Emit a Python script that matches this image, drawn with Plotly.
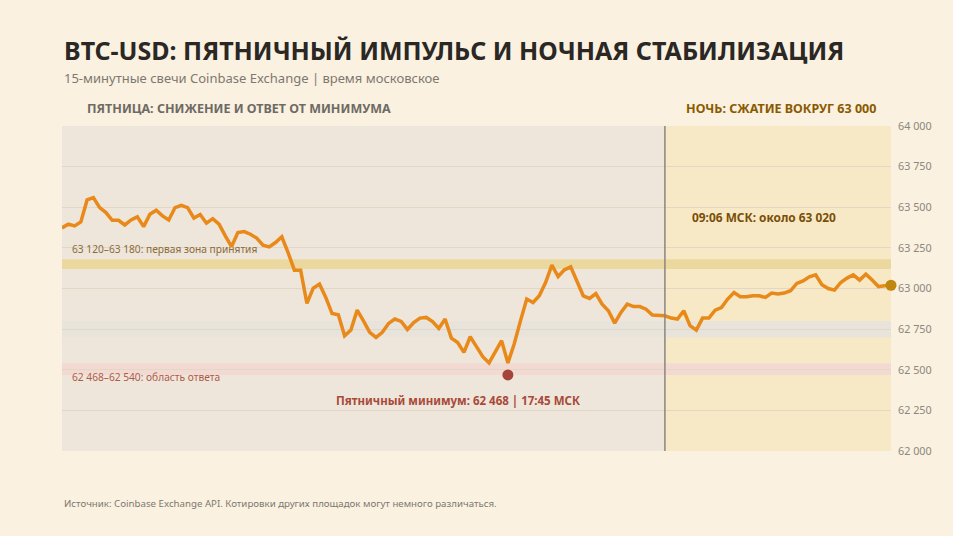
import pandas as pd
import plotly.graph_objects as go

# 15-minute closes, Friday 00:00 MSK -> Saturday 09:00 MSK
start_time = "2024-10-04 00:00"
night_start = "2024-10-05 00:00"
prices = [
    63373, 63396, 63385, 63410, 63545, 63559, 63498, 63467, 63420, 63420,
    63391, 63422, 63441, 63381, 63457, 63482, 63447, 63422, 63498, 63512,
    63498, 63433, 63455, 63402, 63430, 63396, 63324, 63258, 63344, 63350,
    63334, 63310, 63267, 63256, 63283, 63318, 63221, 63113, 63113, 62908,
    63002, 63027, 62945, 62846, 62838, 62709, 62744, 62867, 62801, 62730,
    62699, 62730, 62785, 62812, 62797, 62748, 62791, 62818, 62822, 62797,
    62754, 62812, 62695, 62668, 62607, 62703, 62642, 62580, 62542, 62607,
    62679, 62542, 62658, 62801, 62935, 62914, 62955, 63037, 63144, 63074,
    63115, 63133, 63047, 62955, 62939, 62969, 62904, 62863, 62787, 62853,
    62904, 62889, 62889, 62873, 62837, 62837, 62832, 62818, 62812, 62863,
    62771, 62744, 62818, 62818, 62867, 62883, 62935, 62975, 62949, 62949,
    62955, 62955, 62945, 62972, 62966, 62972, 62986, 63031, 63047, 63072,
    63084, 63023, 63000, 62990, 63037, 63064, 63084, 63052, 63088, 63052,
    63012, 63017, 63020,
]
times = pd.date_range(start_time, periods=len(prices), freq="15min")

friday_low_time = "2024-10-04 17:45"
friday_low = 62468
last_price = 63020

accept_zone = [63120, 63180]
neutral_zone = [62700, 62800]
response_zone = [62468, 62540]

y_ticks = [62000, 62250, 62500, 62750, 63000, 63250, 63500, 63750, 64000]

FONT = "Noto Sans"
BG = "#faf1e0"

fig = go.Figure()

fig.add_trace(go.Scatter(
    x=times, y=prices, mode="lines",
    line=dict(color="#e8891a", width=3.5),
    hoverinfo="skip", showlegend=False,
))
fig.add_trace(go.Scatter(
    x=[friday_low_time], y=[friday_low], mode="markers",
    marker=dict(color="#a5453a", size=11), cliponaxis=False,
    hoverinfo="skip", showlegend=False,
))
fig.add_trace(go.Scatter(
    x=[times[-1]], y=[last_price], mode="markers",
    marker=dict(color="#c0860f", size=11), cliponaxis=False,
    hoverinfo="skip", showlegend=False,
))

# session backgrounds
fig.add_shape(type="rect", xref="x", yref="paper", x0=times[0], x1=night_start,
              y0=0, y1=1, fillcolor="#eee6da", line_width=0, layer="below")
fig.add_shape(type="rect", xref="x", yref="paper", x0=night_start, x1=times[-1],
              y0=0, y1=1, fillcolor="#f7e9c6", line_width=0, layer="below")

# price zones
fig.add_shape(type="rect", xref="paper", yref="y", x0=0, x1=1,
              y0=accept_zone[0], y1=accept_zone[1],
              fillcolor="#ebd89f", line_width=0, layer="below")
fig.add_shape(type="rect", xref="paper", yref="y", x0=0, x1=1,
              y0=neutral_zone[0], y1=neutral_zone[1],
              fillcolor="#e8e4dc", line_width=0, layer="below")
fig.add_shape(type="rect", xref="paper", yref="y", x0=0, x1=1,
              y0=response_zone[0], y1=response_zone[1],
              fillcolor="#f2dad3", line_width=0, layer="below")

# midnight divider
fig.add_shape(type="line", xref="x", yref="paper", x0=night_start, x1=night_start,
              y0=0, y1=1, line=dict(color="#8a8580", width=1.5))

annotations = [
    dict(text="<b>BTC-USD: ПЯТНИЧНЫЙ ИМПУЛЬС И НОЧНАЯ СТАБИЛИЗАЦИЯ</b>",
         xref="paper", yref="paper", x=0, y=1.234, xanchor="left", yanchor="middle",
         font=dict(size=25, color="#2a2724")),
    dict(text="15-минутные свечи Coinbase Exchange | время московское",
         xref="paper", yref="paper", x=0, y=1.148, xanchor="left", yanchor="middle",
         font=dict(size=13, color="#7d7870")),
    dict(text="<b>ПЯТНИЦА: СНИЖЕНИЕ И ОТВЕТ ОТ МИНИМУМА</b>",
         xref="paper", yref="paper", x=0.028, y=1.055, xanchor="left", yanchor="middle",
         font=dict(size=12.5, color="#6e6a64")),
    dict(text="<b>НОЧЬ: СЖАТИЕ ВОКРУГ 63 000</b>",
         xref="paper", yref="paper", x=0.984, y=1.055, xanchor="right", yanchor="middle",
         font=dict(size=12.5, color="#8a5a00")),
    dict(text="63 120–63 180: первая зона принятия",
         xref="paper", yref="y", x=0.01, y=63244, xanchor="left", yanchor="middle",
         font=dict(size=10.2, color="#8a6a3a")),
    dict(text="62 468–62 540: область ответа",
         xref="paper", yref="y", x=0.01, y=62457, xanchor="left", yanchor="middle",
         font=dict(size=10.2, color="#b05a4a")),
    dict(text="<b>Пятничный минимум: 62 468 | 17:45 МСК</b>",
         xref="paper", yref="y", x=0.478, y=62310, xanchor="center", yanchor="middle",
         font=dict(size=11.5, color="#a84a3a")),
    dict(text="<b>09:06 МСК: около 63 020</b>",
         xref="paper", yref="y", x=0.847, y=63441, xanchor="center", yanchor="middle",
         font=dict(size=11.9, color="#7a4e08")),
    dict(text="Источник: Coinbase Exchange API. Котировки других площадок могут немного различаться.",
         xref="paper", yref="paper", x=0, y=-0.163, xanchor="left", yanchor="middle",
         font=dict(size=9.7, color="#7d7870")),
]
for a in annotations:
    a["showarrow"] = False
    fig.add_annotation(**a)

fig.update_xaxes(visible=False, range=[times[0], times[-1]])
fig.update_yaxes(
    side="right", range=[62000, 64000], tickvals=y_ticks, tickformat=",d",
    showgrid=True, gridcolor="#e2d6c4", gridwidth=1, zeroline=False,
    showline=False, ticks="", ticklabelstandoff=6,
    tickfont=dict(size=10.8, color="#8c877f"),
)

fig.update_layout(
    width=953, height=536,
    margin=dict(l=62, r=62, t=126, b=85),
    paper_bgcolor=BG, plot_bgcolor=BG,
    separators=", ",
    font=dict(family=FONT),
    showlegend=False,
)

# drop the default page margin so the figure sits at the window origin
fig.write_html("out.html", config={"displayModeBar": False},
               post_script="document.body.style.margin='0';")
